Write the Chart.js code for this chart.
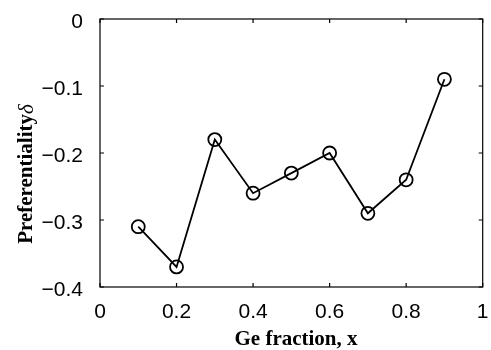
<!DOCTYPE html>
<html lang="en">
<head>
  <meta charset="UTF-8" />
  <title>Preferentiality vs Ge fraction</title>
  <script src="https://cdn.jsdelivr.net/npm/chart.js"></script>
  <style>
    * { margin: 0; padding: 0; box-sizing: border-box; }
    body { background: #fff; }
    .wrap { width: 491px; height: 350px; }
  </style>
</head>
<body>
  <div class="wrap"><canvas id="chart" width="491" height="350"></canvas></div>

  <script>
    // data
    const geFraction = [0.1, 0.2, 0.3, 0.4, 0.5, 0.6, 0.7, 0.8, 0.9];
    const preferentiality = [-0.31, -0.37, -0.18, -0.26, -0.23, -0.20, -0.29, -0.24, -0.09];
    const xTicks = [0, 0.2, 0.4, 0.6, 0.8, 1];
    const yTicks = [-0.4, -0.3, -0.2, -0.1, 0];

    const tickFont = { family: "'Liberation Sans', Arial, sans-serif", size: 21 };
    const titleFont = "21px 'Liberation Serif', 'Times New Roman', serif";

    const fmt = v => {
      const s = String(Math.round(v * 10) / 10);
      return s.replace('-', '\u2212');
    };

    // frame box, inward ticks and axis titles
    const framePlugin = {
      id: 'frame',
      afterDatasetsDraw(chart) {
        const { ctx, chartArea: a, scales } = chart;
        ctx.save();
        ctx.strokeStyle = '#000';
        ctx.lineWidth = 1.2;
        ctx.strokeRect(a.left, a.top, a.right - a.left, a.bottom - a.top);
        const len = 4;
        ctx.beginPath();
        xTicks.forEach(t => {
          const px = scales.x.getPixelForValue(t);
          ctx.moveTo(px, a.bottom); ctx.lineTo(px, a.bottom - len);
          ctx.moveTo(px, a.top); ctx.lineTo(px, a.top + len);
        });
        yTicks.forEach(t => {
          const py = scales.y.getPixelForValue(t);
          ctx.moveTo(a.left, py); ctx.lineTo(a.left + len, py);
          ctx.moveTo(a.right, py); ctx.lineTo(a.right - len, py);
        });
        ctx.stroke();

        // axis titles
        ctx.fillStyle = '#000';
        ctx.font = 'bold ' + titleFont;
        ctx.textAlign = 'center';
        ctx.textBaseline = 'middle';
        ctx.fillText('Ge fraction, x', 296, 340);

        ctx.translate(27, 174);
        ctx.rotate(-Math.PI / 2);
        const main = 'Preferentiality';
        const w1 = ctx.measureText(main).width;
        ctx.font = 'italic ' + titleFont;
        const w2 = ctx.measureText('δ').width;
        const start = -(w1 + w2) / 2;
        ctx.textAlign = 'left';
        ctx.font = 'bold ' + titleFont;
        ctx.fillText(main, start, 0);
        ctx.font = 'italic ' + titleFont;
        ctx.fillText('δ', start + w1, 0);
        ctx.restore();
      }
    };

    new Chart(document.getElementById('chart').getContext('2d'), {
      type: 'line',
      data: {
        datasets: [{
          data: geFraction.map((x, i) => ({ x: x, y: preferentiality[i] })),
          borderColor: '#000',
          borderWidth: 1.8,
          pointRadius: 6.5,
          pointHoverRadius: 6.5,
          pointBorderWidth: 1.8,
          pointBorderColor: '#000',
          pointBackgroundColor: 'rgba(0,0,0,0)',
          fill: false,
          tension: 0
        }]
      },
      options: {
        responsive: false,
        animation: false,
        events: [],
        layout: { padding: { left: 0, right: 5, top: 19, bottom: 0 } },
        plugins: { legend: { display: false }, tooltip: { enabled: false } },
        scales: {
          x: {
            type: 'linear',
            min: 0,
            max: 1,
            afterBuildTicks: s => { s.ticks = xTicks.map(v => ({ value: v })); },
            afterFit: s => { s.height = 63; s.paddingLeft = 0; s.paddingRight = 0; },
            grid: { display: false },
            border: { display: false },
            ticks: { color: '#000', font: tickFont, padding: 5, maxRotation: 0, callback: fmt }
          },
          y: {
            type: 'linear',
            min: -0.4,
            max: 0,
            afterBuildTicks: s => { s.ticks = yTicks.map(v => ({ value: v })); },
            afterFit: s => { s.width = 100; s.paddingTop = 0; s.paddingBottom = 0; },
            grid: { display: false },
            border: { display: false },
            ticks: { color: '#000', font: tickFont, padding: 9, labelOffset: 3, callback: fmt }
          }
        }
      },
      plugins: [framePlugin]
    });
  </script>
</body>
</html>
